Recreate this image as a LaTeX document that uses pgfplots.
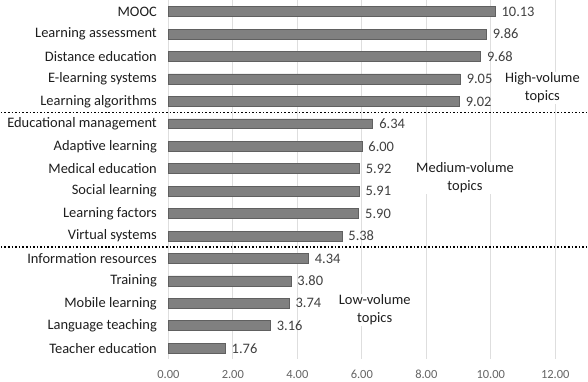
\documentclass[border=0pt]{standalone}
\usepackage{pgfplots}
\pgfplotsset{compat=1.18}
\usepackage{fontspec}
\setmainfont{Carlito}
\definecolor{barfill}{RGB}{128,128,128}
\definecolor{bardraw}{RGB}{96,96,96}
\definecolor{gridc}{RGB}{222,222,222}
\definecolor{txt}{RGB}{30,30,30}
\definecolor{valc}{RGB}{64,64,64}
\definecolor{tickc}{RGB}{100,100,100}
\begin{document}
\begin{tikzpicture}
\begin{axis}[
  scale only axis,
  width=388pt, height=360pt,
  xmin=0, xmax=12,
  ymin=-0.5, ymax=15.5,
  y dir=reverse,
  axis line style={draw=none},
  xtick={0,2,4,6,8,10,12},
  xticklabel style={font=\fontsize{12.5}{13}\selectfont, text=tickc, yshift=-7pt},
  xticklabel={\pgfmathprintnumber[fixed,fixed zerofill,precision=2]{\tick}},
  /pgf/number format/assume math mode=true,
  major tick length=0pt,
  xmajorgrids,
  grid style={draw=gridc, line width=0.8pt},
  ytick={0,...,15},
  yticklabels={MOOC,Learning assessment,Distance education,E-learning systems,Learning algorithms,Educational management,Adaptive learning,Medical education,Social learning,Learning factors,Virtual systems,Information resources,Training,Mobile learning,Language teaching,Teacher education},
  yticklabel style={font=\fontsize{14.5}{15}\selectfont, text=txt, xshift=-8pt},
  clip=false,
  point meta=x,
  nodes near coords,
  nodes near coords style={font=\fontsize{14.5}{15}\selectfont, text=valc, anchor=west, xshift=3pt,
    /pgf/number format/.cd, fixed, fixed zerofill, precision=2, assume math mode=true},
]
\addplot[xbar, bar width=10pt, fill=barfill, draw=bardraw, line width=0.6pt] coordinates {
(10.13,0) (9.86,1) (9.68,2) (9.05,3) (9.02,4)
(6.34,5) (6.00,6) (5.92,7) (5.91,8) (5.90,9) (5.38,10)
(4.34,11) (3.80,12) (3.74,13) (3.16,14) (1.76,15)
};
\draw[dotted, line width=1.6pt, black] (axis cs:-5.196,4.5) -- (axis cs:12.99,4.5);
\draw[dotted, line width=1.6pt, black] (axis cs:-5.196,10.5) -- (axis cs:12.99,10.5);
\node[fill=white, align=center, font=\fontsize{14.5}{18}\selectfont, text=txt, inner sep=1pt] at (axis cs:11.6,3.4) {High-volume\\topics};
\node[fill=white, align=center, font=\fontsize{14.5}{18}\selectfont, text=txt, inner sep=1pt] at (axis cs:9.2,7.4) {Medium-volume\\topics};
\node[fill=white, align=center, font=\fontsize{14.5}{18}\selectfont, text=txt, inner sep=1pt] at (axis cs:6.4,13.3) {Low-volume\\topics};
\end{axis}
\end{tikzpicture}
\end{document}
